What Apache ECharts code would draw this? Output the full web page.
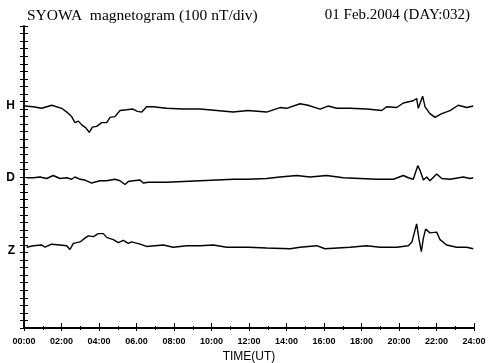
<!DOCTYPE html>
<html><head><meta charset="utf-8">
<script src="https://cdn.jsdelivr.net/npm/echarts@6/dist/echarts.min.js"></script>
<style>html,body{margin:0;padding:0;background:#fff}#c{width:494px;height:363px}</style>
</head><body><div id="c"></div>
<script>
const xTickLabels = ["00:00","02:00","04:00","06.00","08:00","10:00","12:00","14:00","16:00","18:00","20:00","22:00","24:00"];
const componentNames = ["H","D","Z"];
const componentLevels = [295,199,103];

const hoursH = [0.05,0.48,0.94,1.48,2.01,2.28,2.54,2.72,2.9,3.08,3.3,3.48,3.65,3.88,4.14,4.41,4.59,4.85,5.12,5.48,5.81,6.05,6.28,6.54,6.88,7.61,8.48,9.39,10.28,11.15,11.95,12.94,13.65,14.01,14.72,15.15,15.79,16.21,16.68,17.39,18.28,19.08,19.34,19.88,20.23,20.76,20.94,21.03,21.16,21.26,21.39,21.65,21.92,22.28,22.72,23.16,23.61,23.96];
const valuesH = [294,293,291,295,291,286,280,272,274,269,265,259,266,267,272,272,279,280,288,289,290,287,286,293,293,291,290,290,288,286,288,286,292,291,297,295,290,294,291,291,290,288,293,292,298,301,304,291,300,307,293,284,279,284,288,295,292,294];

const hoursD = [0.14,0.50,0.85,1.21,1.56,1.92,2.28,2.54,2.72,2.99,3.25,3.61,4.05,4.41,4.85,5.12,5.39,5.56,5.83,6.19,6.28,6.36,6.63,7.61,8.50,9.39,10.28,11.16,11.96,12.94,13.65,14.54,15.25,16.14,17.03,17.92,18.81,19.70,20.23,20.50,20.76,21.00,21.12,21.30,21.48,21.65,22.01,22.28,22.72,23.43,23.79,23.96];
const valuesD = [199,199,200,198,202,198,199,197,200,197,196,192,195,195,197,195,190,194,195,196,198,192,193,193,194,195,196,197,197,198,200,202,200,202,199,198,197,197,202,199,197,215,209,196,200,195,204,198,197,200,198,199];

const hoursZ = [0.14,0.50,0.94,1.12,1.48,1.92,2.28,2.45,2.63,2.99,3.25,3.43,3.70,3.96,4.23,4.41,4.76,5.03,5.30,5.56,5.74,6.19,6.54,7.43,7.96,8.68,9.39,10.10,10.81,11.96,12.94,14.19,14.72,15.61,16.05,17.39,18.28,18.99,19.88,20.50,20.69,20.94,21.07,21.19,21.30,21.42,21.65,22.01,22.19,22.54,23.08,23.61,23.96];
const valuesZ = [107,109,110,107,111,110,109,104,112,114,119,122,121,125,125,120,117,113,116,112,114,111,108,110,107,109,109,110,107,107,106,105,107,109,105,107,109,107,107,109,114,138,117,101,119,131,126,127,117,110,107,107,105];

const pair = (hs, vs) => hs.map((h, i) => [h, vs[i]]);
const chart = echarts.init(document.getElementById('c'));
const lineSeries = (name, hs, vs) => ({
  name, type: 'line', data: pair(hs, vs), showSymbol: false, symbol: 'none',
  lineStyle: { color: '#000', width: 1.4 }, animation: false
});
const xBase = {
  type: 'value', min: 0, max: 24, interval: 2,
  axisLine: { show: true, lineStyle: { color: '#000', width: 1.5 } },
  axisTick: { show: true, inside: true, length: 5, lineStyle: { color: '#000', width: 1 } },
  minorTick: { show: true, splitNumber: 2, length: 2, lineStyle: { color: '#000', width: 1 } },
  splitLine: { show: false }
};
const yBase = {
  type: 'value', min: 0, max: 400, interval: 10,
  axisLine: { show: true, lineStyle: { color: '#000', width: 1.5 } },
  axisTick: { show: true, inside: true, length: 4, lineStyle: { color: '#000', width: 1 } },
  splitLine: { show: false }
};
chart.setOption({
  backgroundColor: '#fff',
  animation: false,
  title: [
    { text: 'SYOWA  magnetogram (100 nT/div)', left: 22, top: 3,
      textStyle: { fontFamily: 'Liberation Serif', fontSize: 15.5, fontWeight: 'normal', color: '#000' } },
    { text: '01 Feb.2004 (DAY:032)', right: 19, top: 3,
      textStyle: { fontFamily: 'Liberation Serif', fontSize: 15, fontWeight: 'normal', color: '#000' } }
  ],
  grid: { left: 24, right: 20, top: 26, bottom: 35, containLabel: false, outerBoundsMode: 'none' },
  xAxis: [
    Object.assign({}, xBase, {
      position: 'bottom',
      name: 'TIME(UT)', nameLocation: 'middle', nameGap: 18,
      nameTextStyle: { fontFamily: 'Liberation Sans', fontSize: 12, color: '#000' },
      axisLabel: { show: true, margin: 9, fontFamily: 'Liberation Sans', fontSize: 9, fontWeight: 'bold', color: '#000',
        formatter: v => xTickLabels[Math.round(v / 2)] }
    }),
    Object.assign({}, xBase, { position: 'top', axisLabel: { show: false },
      axisLine: { show: true, lineStyle: { color: '#000', width: 2 } }, axisTick: { show: true, inside: true, length: 3, lineStyle: { color: '#000', width: 1 } } })
  ],
  yAxis: [
    Object.assign({}, yBase, { position: 'left',
      axisLabel: { show: true, customValues: componentLevels, margin: 9, fontFamily: 'Liberation Sans', fontSize: 12, fontWeight: 'bold', color: '#000',
        formatter: v => componentNames[componentLevels.indexOf(v)] } }),
    Object.assign({}, yBase, { position: 'right', axisLabel: { show: false } })
  ],
  series: [
    lineSeries('H', hoursH, valuesH),
    lineSeries('D', hoursD, valuesD),
    lineSeries('Z', hoursZ, valuesZ)
  ]
});
</script></body></html>
